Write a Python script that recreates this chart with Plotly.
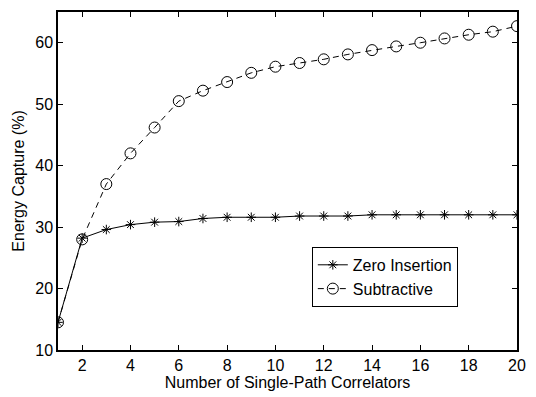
import plotly.graph_objects as go

x_vals = list(range(1, 21))
zero_insertion = [14.5, 28.2, 29.6, 30.4, 30.8, 30.9, 31.4, 31.6, 31.6, 31.6,
                  31.8, 31.8, 31.8, 32.0, 32.0, 32.0, 32.0, 32.0, 32.0, 32.0]
subtractive = [14.5, 28.0, 37.0, 42.0, 46.2, 50.5, 52.2, 53.6, 55.1, 56.1,
               56.7, 57.3, 58.1, 58.8, 59.4, 60.0, 60.7, 61.3, 61.8, 62.7]
x_ticks = list(range(2, 21, 2))
y_ticks = [10, 20, 30, 40, 50, 60]

FONT = "Liberation Sans, Arial"
FS = 16

fig = go.Figure()
fig.add_trace(go.Scatter(
    x=x_vals, y=zero_insertion, name="Zero Insertion", mode="lines+markers",
    line=dict(color="black", width=1),
    marker=dict(symbol="asterisk-open", size=8, color="black",
                line=dict(color="black", width=1)),
))
fig.add_trace(go.Scatter(
    x=x_vals, y=subtractive, name="Subtractive", mode="lines+markers",
    line=dict(color="black", width=1, dash="6px,5px"),
    marker=dict(symbol="circle-open", size=11, color="black",
                line=dict(color="black", width=1)),
))

axis_common = dict(showline=True, linecolor="black", linewidth=1.5,
                   mirror="allticks", ticks="inside", ticklen=5,
                   tickcolor="black", showgrid=False, zeroline=False,
                   tickfont=dict(family=FONT, size=FS, color="black"))

fig.update_xaxes(range=[1, 20], tickvals=x_ticks,
                 title=dict(text="Number of Single-Path Correlators",
                            font=dict(family=FONT, size=FS, color="black"),
                            standoff=1),
                 **axis_common)
fig.update_yaxes(range=[10, 65], tickvals=y_ticks,
                 title=dict(text="Energy Capture (%)",
                            font=dict(family=FONT, size=FS, color="black"),
                            standoff=7),
                 **axis_common)

fig.update_layout(
    width=536, height=397,
    margin=dict(l=58, r=10, t=11, b=47),
    plot_bgcolor="white", paper_bgcolor="white",
    font=dict(family=FONT, size=FS, color="black"),
    legend=dict(x=0.553, y=0.305, xanchor="left", yanchor="top",
                bordercolor="black", borderwidth=1, bgcolor="white",
                font=dict(family=FONT, size=FS), tracegroupgap=0, itemwidth=30),
    showlegend=True,
)

fig.write_html("out.html")
